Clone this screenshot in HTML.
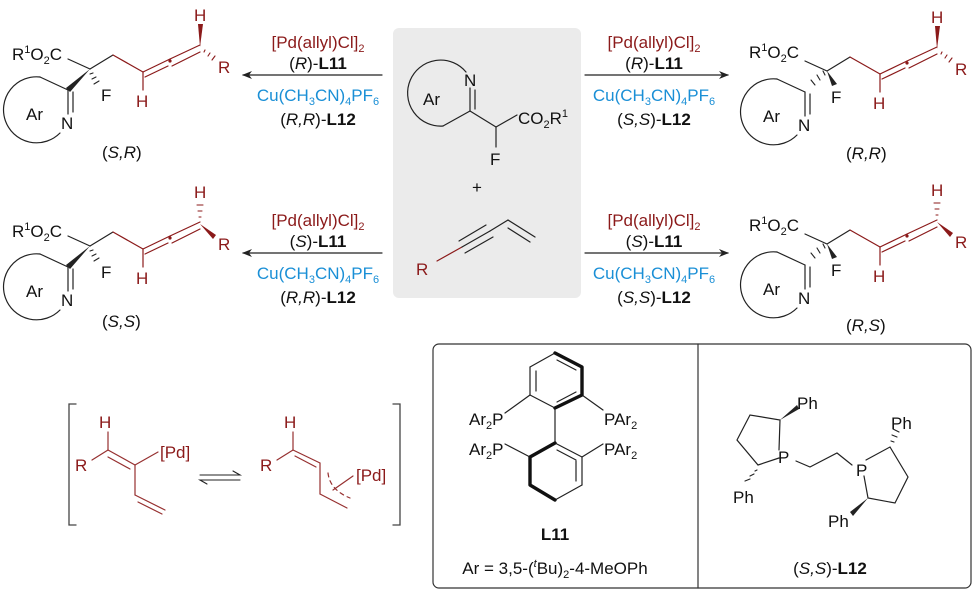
<!DOCTYPE html>
<html><head><meta charset="utf-8"><style>
html,body{margin:0;padding:0;background:#fff}
svg{display:block}
text{font-family:"Liberation Sans",Arial,sans-serif;font-size:17px;fill:#111}
.r{fill:#8b1a1a}.b{fill:#1a8fd6}
.sm{font-size:11px}
line,path,polyline,polygon,circle{stroke-linecap:round}
</style></head><body>
<svg width="973" height="592" viewBox="0 0 973 592" xmlns="http://www.w3.org/2000/svg">
<defs>
<marker id="ah" markerWidth="10" markerHeight="8" refX="9" refY="4" orient="auto" markerUnits="userSpaceOnUse"><path d="M0,0 L10,4 L0,8 L3,4 Z" fill="#222"/></marker>
</defs>

<rect x="393" y="28" width="188" height="270" rx="6" fill="#ebebeb"/>
<g stroke="#222" stroke-width="1.2" fill="none">
<path d="M443,126 A33,33 0 1 1 466,72"/>
<line x1="443" y1="126" x2="470" y2="111"/>
<line x1="470" y1="111" x2="470" y2="88"/><line x1="475" y1="109" x2="475" y2="90"/>
<line x1="470" y1="111" x2="496" y2="127"/>
<line x1="496" y1="127" x2="517" y2="115"/>
<line x1="496" y1="127" x2="496" y2="147"/>
</g>
<text x="423" y="105">Ar</text><text x="464" y="86">N</text>
<text x="518" y="124">CO<tspan class="sm" dy="4">2</tspan><tspan dy="-4">R</tspan><tspan class="sm" dy="-7">1</tspan></text>
<text x="490" y="165">F</text>
<text x="472" y="193">+</text>
<g stroke-width="1.2">
<line x1="437" y1="261" x2="462" y2="247" stroke="#8b1a1a"/>
<line x1="462" y1="247" x2="490" y2="231" stroke="#222"/>
<line x1="459" y1="241" x2="486" y2="225" stroke="#222"/>
<line x1="465" y1="253" x2="493" y2="237" stroke="#222"/>
<line x1="490" y1="231" x2="508" y2="220" stroke="#222"/>
<line x1="508" y1="220" x2="535" y2="237" stroke="#222"/>
<line x1="508" y1="228" x2="530" y2="242" stroke="#222"/>
</g>
<text x="416" y="275" class="r">R</text>

<g stroke="#222" stroke-width="1.2">
<line x1="382" y1="75" x2="243" y2="75" marker-end="url(#ah)"/>
<line x1="585" y1="75" x2="728" y2="75" marker-end="url(#ah)"/>
<line x1="382" y1="253" x2="243" y2="253" marker-end="url(#ah)"/>
<line x1="585" y1="253" x2="728" y2="253" marker-end="url(#ah)"/>
</g>
<g text-anchor="middle">
<text x="318" y="48" class="r">[Pd(allyl)Cl]<tspan class="sm" dy="4">2</tspan></text>
<text x="318" y="69">(<tspan font-style="italic">R</tspan>)-<tspan font-weight="bold">L11</tspan></text>
<text x="318" y="101" class="b">Cu(CH<tspan class="sm" dy="4">3</tspan><tspan dy="-4">CN)</tspan><tspan class="sm" dy="4">4</tspan><tspan dy="-4">PF</tspan><tspan class="sm" dy="4">6</tspan></text>
<text x="318" y="125">(<tspan font-style="italic">R,R</tspan>)-<tspan font-weight="bold">L12</tspan></text>

<text x="654" y="48" class="r">[Pd(allyl)Cl]<tspan class="sm" dy="4">2</tspan></text>
<text x="654" y="69">(<tspan font-style="italic">R</tspan>)-<tspan font-weight="bold">L11</tspan></text>
<text x="654" y="101" class="b">Cu(CH<tspan class="sm" dy="4">3</tspan><tspan dy="-4">CN)</tspan><tspan class="sm" dy="4">4</tspan><tspan dy="-4">PF</tspan><tspan class="sm" dy="4">6</tspan></text>
<text x="654" y="125">(<tspan font-style="italic">S,S</tspan>)-<tspan font-weight="bold">L12</tspan></text>

<text x="318" y="226" class="r">[Pd(allyl)Cl]<tspan class="sm" dy="4">2</tspan></text>
<text x="318" y="247">(<tspan font-style="italic">S</tspan>)-<tspan font-weight="bold">L11</tspan></text>
<text x="318" y="279" class="b">Cu(CH<tspan class="sm" dy="4">3</tspan><tspan dy="-4">CN)</tspan><tspan class="sm" dy="4">4</tspan><tspan dy="-4">PF</tspan><tspan class="sm" dy="4">6</tspan></text>
<text x="318" y="303">(<tspan font-style="italic">R,R</tspan>)-<tspan font-weight="bold">L12</tspan></text>

<text x="654" y="226" class="r">[Pd(allyl)Cl]<tspan class="sm" dy="4">2</tspan></text>
<text x="654" y="247">(<tspan font-style="italic">S</tspan>)-<tspan font-weight="bold">L11</tspan></text>
<text x="654" y="279" class="b">Cu(CH<tspan class="sm" dy="4">3</tspan><tspan dy="-4">CN)</tspan><tspan class="sm" dy="4">4</tspan><tspan dy="-4">PF</tspan><tspan class="sm" dy="4">6</tspan></text>
<text x="654" y="303">(<tspan font-style="italic">S,S</tspan>)-<tspan font-weight="bold">L12</tspan></text>
</g>

<!-- top-left (S,R) -->
<g transform="translate(0,0)">
<g stroke="#222" stroke-width="1.2" fill="none">
<path d="M40,77 A33,33 0 1 0 60,133"/>
<line x1="40" y1="77" x2="68" y2="90"/>
<line x1="68" y1="90" x2="68" y2="114"/><line x1="73" y1="92" x2="73" y2="112"/>
<line x1="68" y1="59" x2="90" y2="69"/>
<line x1="90" y1="69" x2="113" y2="55"/>
</g>
<polygon points="90,69 66,88 70,92" fill="#222"/>
<g stroke="#222" stroke-width="1.1"><line x1="93" y1="73" x2="90" y2="74"/><line x1="96" y1="77" x2="92" y2="79"/><line x1="99" y1="81" x2="94" y2="84"/></g>
<text x="101" y="101">F</text><text x="61" y="129">N</text><text x="26" y="120">Ar</text>
<text x="12" y="60">R<tspan class="sm" dy="-7">1</tspan><tspan dy="7">O</tspan><tspan class="sm" dy="4">2</tspan><tspan dy="-4">C</tspan></text>
<g stroke="#8b1a1a" stroke-width="1.2" fill="none">
<line x1="113" y1="55" x2="143" y2="72"/>
<line x1="143" y1="72" x2="170" y2="59"/><line x1="145" y1="77" x2="168" y2="66"/>
<line x1="170" y1="59" x2="200" y2="45"/><line x1="172" y1="66" x2="200" y2="52"/>
<line x1="143" y1="72" x2="143" y2="90"/>
</g>
<circle cx="170" cy="61" r="1.6" fill="#8b1a1a"/>
<polygon points="200,47 198,24 203,24" fill="#8b1a1a"/>
<g stroke="#8b1a1a" stroke-width="1.1"><line x1="205" y1="50" x2="204" y2="52"/><line x1="210" y1="53" x2="208" y2="56"/><line x1="215" y1="56" x2="212" y2="60"/></g>
<text x="194" y="21" class="r">H</text><text x="218" y="73" class="r">R</text><text x="136" y="107" class="r">H</text>
<text x="102" y="158">(<tspan font-style="italic">S,R</tspan>)</text>
</g>

<!-- bottom-left (S,S) -->
<g transform="translate(0,177)">
<g stroke="#222" stroke-width="1.2" fill="none">
<path d="M40,77 A33,33 0 1 0 60,133"/>
<line x1="40" y1="77" x2="68" y2="90"/>
<line x1="68" y1="90" x2="68" y2="114"/><line x1="73" y1="92" x2="73" y2="112"/>
<line x1="68" y1="59" x2="90" y2="69"/>
<line x1="90" y1="69" x2="113" y2="55"/>
</g>
<polygon points="90,69 66,88 70,92" fill="#222"/>
<g stroke="#222" stroke-width="1.1"><line x1="93" y1="73" x2="90" y2="74"/><line x1="96" y1="77" x2="92" y2="79"/><line x1="99" y1="81" x2="94" y2="84"/></g>
<text x="101" y="101">F</text><text x="61" y="129">N</text><text x="26" y="120">Ar</text>
<text x="12" y="60">R<tspan class="sm" dy="-7">1</tspan><tspan dy="7">O</tspan><tspan class="sm" dy="4">2</tspan><tspan dy="-4">C</tspan></text>
<g stroke="#8b1a1a" stroke-width="1.2" fill="none">
<line x1="113" y1="55" x2="143" y2="72"/>
<line x1="143" y1="72" x2="170" y2="59"/><line x1="145" y1="77" x2="168" y2="66"/>
<line x1="170" y1="59" x2="200" y2="45"/><line x1="172" y1="66" x2="200" y2="52"/>
<line x1="143" y1="72" x2="143" y2="90"/>
</g>
<circle cx="170" cy="61" r="1.6" fill="#8b1a1a"/>
<g stroke="#8b1a1a" stroke-width="1.1"><line x1="199" y1="40" x2="201" y2="40"/><line x1="198" y1="34" x2="202" y2="34"/><line x1="197" y1="28" x2="203" y2="28"/></g>
<polygon points="200,47 216,58 213,62" fill="#8b1a1a"/>
<text x="194" y="21" class="r">H</text><text x="218" y="73" class="r">R</text><text x="136" y="107" class="r">H</text>
<text x="102" y="150">(<tspan font-style="italic">S,S</tspan>)</text>
</g>

<!-- top-right (R,R) -->
<g transform="translate(737,2)">
<g stroke="#222" stroke-width="1.2" fill="none">
<path d="M40,77 A33,33 0 1 0 60,133"/>
<line x1="40" y1="77" x2="68" y2="90"/>
<line x1="68" y1="90" x2="68" y2="114"/><line x1="73" y1="92" x2="73" y2="112"/>
<line x1="68" y1="59" x2="90" y2="69"/>
<line x1="90" y1="69" x2="113" y2="55"/>
</g>
<g stroke="#222" stroke-width="1.1"><line x1="86" y1="69" x2="88" y2="73"/><line x1="80" y1="73" x2="83" y2="78"/><line x1="74" y1="78" x2="78" y2="83"/></g>
<polygon points="90,69 95,84 100,82" fill="#222"/>
<text x="94" y="101">F</text><text x="61" y="129">N</text><text x="26" y="120">Ar</text>
<text x="12" y="56">R<tspan class="sm" dy="-7">1</tspan><tspan dy="7">O</tspan><tspan class="sm" dy="4">2</tspan><tspan dy="-4">C</tspan></text>
<g stroke="#8b1a1a" stroke-width="1.2" fill="none">
<line x1="113" y1="55" x2="143" y2="72"/>
<line x1="143" y1="72" x2="170" y2="59"/><line x1="145" y1="77" x2="168" y2="66"/>
<line x1="170" y1="59" x2="200" y2="45"/><line x1="172" y1="66" x2="200" y2="52"/>
<line x1="143" y1="72" x2="143" y2="90"/>
</g>
<circle cx="170" cy="61" r="1.6" fill="#8b1a1a"/>
<polygon points="200,47 198,24 203,24" fill="#8b1a1a"/>
<g stroke="#8b1a1a" stroke-width="1.1"><line x1="205" y1="50" x2="204" y2="52"/><line x1="210" y1="53" x2="208" y2="56"/><line x1="215" y1="56" x2="212" y2="60"/></g>
<text x="194" y="21" class="r">H</text><text x="218" y="73" class="r">R</text><text x="136" y="107" class="r">H</text>
<text x="109" y="157">(<tspan font-style="italic">R,R</tspan>)</text>
</g>

<!-- bottom-right (R,S) -->
<g transform="translate(737,175)">
<g stroke="#222" stroke-width="1.2" fill="none">
<path d="M40,77 A33,33 0 1 0 60,133"/>
<line x1="40" y1="77" x2="68" y2="90"/>
<line x1="68" y1="90" x2="68" y2="114"/><line x1="73" y1="92" x2="73" y2="112"/>
<line x1="68" y1="59" x2="90" y2="69"/>
<line x1="90" y1="69" x2="113" y2="55"/>
</g>
<g stroke="#222" stroke-width="1.1"><line x1="86" y1="69" x2="88" y2="73"/><line x1="80" y1="73" x2="83" y2="78"/><line x1="74" y1="78" x2="78" y2="83"/></g>
<polygon points="90,69 95,84 100,82" fill="#222"/>
<text x="94" y="101">F</text><text x="61" y="129">N</text><text x="26" y="120">Ar</text>
<text x="12" y="56">R<tspan class="sm" dy="-7">1</tspan><tspan dy="7">O</tspan><tspan class="sm" dy="4">2</tspan><tspan dy="-4">C</tspan></text>
<g stroke="#8b1a1a" stroke-width="1.2" fill="none">
<line x1="113" y1="55" x2="143" y2="72"/>
<line x1="143" y1="72" x2="170" y2="59"/><line x1="145" y1="77" x2="168" y2="66"/>
<line x1="170" y1="59" x2="200" y2="45"/><line x1="172" y1="66" x2="200" y2="52"/>
<line x1="143" y1="72" x2="143" y2="90"/>
</g>
<circle cx="170" cy="61" r="1.6" fill="#8b1a1a"/>
<g stroke="#8b1a1a" stroke-width="1.1"><line x1="199" y1="40" x2="201" y2="40"/><line x1="198" y1="34" x2="202" y2="34"/><line x1="197" y1="28" x2="203" y2="28"/></g>
<polygon points="200,47 216,58 213,62" fill="#8b1a1a"/>
<text x="194" y="21" class="r">H</text><text x="218" y="73" class="r">R</text><text x="136" y="107" class="r">H</text>
<text x="109" y="156">(<tspan font-style="italic">R,S</tspan>)</text>
</g>

<!-- brackets -->
<g stroke="#444" stroke-width="1.3" fill="none">
<polyline points="76,404 69,404 69,525 76,525"/>
<polyline points="393,404 400,404 400,525 393,525"/>
</g>
<g stroke="#8b1a1a" stroke-width="1.2" fill="none" opacity="0.9">
<line x1="108" y1="432" x2="108" y2="450"/>
<line x1="92" y1="460" x2="108" y2="450"/>
<line x1="108" y1="450" x2="135" y2="465"/><line x1="108" y1="457" x2="130" y2="469"/>
<line x1="135" y1="465" x2="158" y2="452"/>
<line x1="135" y1="465" x2="135" y2="495"/>
<line x1="135" y1="495" x2="165" y2="510"/><line x1="138" y1="502" x2="162" y2="514"/>
<line x1="293" y1="432" x2="293" y2="450"/>
<line x1="277" y1="460" x2="293" y2="450"/>
<line x1="293" y1="450" x2="320" y2="463"/><line x1="295" y1="456" x2="316" y2="467"/>
<line x1="320" y1="463" x2="320" y2="494"/>
<line x1="320" y1="494" x2="347" y2="508"/>
<line x1="333" y1="490" x2="353" y2="476"/>
<path d="M328,473 Q330,490 350,498" stroke-dasharray="4,4"/>
</g>
<text x="99" y="428" class="r">H</text><text x="75" y="471" class="r">R</text><text x="160" y="458" class="r">[Pd]</text>
<text x="284" y="428" class="r">H</text><text x="260" y="471" class="r">R</text><text x="356" y="481" class="r">[Pd]</text>
<g stroke="#222" stroke-width="1.1" fill="none">
<polyline points="200,475 240,475 233,471"/>
<polyline points="240,480 200,480 207,484"/>
</g>

<!-- ligand box -->
<rect x="433" y="344" width="538" height="244" rx="6" fill="none" stroke="#333" stroke-width="1.2"/>
<line x1="698" y1="344" x2="698" y2="588" stroke="#333" stroke-width="1.2"/>
<g stroke="#222" stroke-width="1.2" fill="none">
<line x1="555" y1="353" x2="530" y2="367"/><line x1="530" y1="367" x2="530" y2="395"/><line x1="530" y1="395" x2="555" y2="408"/>
<line x1="536" y1="371" x2="536" y2="391"/><line x1="557" y1="360" x2="576" y2="370"/>
<line x1="555" y1="408" x2="555" y2="443"/>
<line x1="555" y1="443" x2="582" y2="457"/><line x1="582" y1="457" x2="582" y2="485"/><line x1="582" y1="485" x2="555" y2="500"/>
<line x1="576" y1="461" x2="576" y2="481"/><line x1="557" y1="450" x2="576" y2="460"/>
<line x1="505" y1="413" x2="530" y2="395"/><line x1="582" y1="395" x2="603" y2="410"/>
<line x1="505" y1="444" x2="530" y2="457"/><line x1="582" y1="457" x2="603" y2="444"/>
</g>
<g stroke="#111" stroke-width="3.4" fill="none" stroke-linejoin="round">
<polyline points="555,353 582,367 582,395 555,408"/>
<polyline points="555,443 530,457 530,485 555,500"/>
</g>
<line x1="557" y1="402" x2="576" y2="392" stroke="#222" stroke-width="1.2"/>
<text x="469" y="425">Ar<tspan class="sm" dy="4">2</tspan><tspan dy="-4">P</tspan></text>
<text x="604" y="425">PAr<tspan class="sm" dy="4">2</tspan></text>
<text x="469" y="455">Ar<tspan class="sm" dy="4">2</tspan><tspan dy="-4">P</tspan></text>
<text x="604" y="455">PAr<tspan class="sm" dy="4">2</tspan></text>
<text x="555" y="540" text-anchor="middle" font-weight="bold">L11</text>
<text x="555" y="574" text-anchor="middle">Ar = 3,5-(<tspan font-style="italic" class="sm" dy="-7">t</tspan><tspan dy="7">Bu)</tspan><tspan class="sm" dy="4">2</tspan><tspan dy="-4">-4-MeOPh</tspan></text>
<!-- L12 -->
<g stroke="#222" stroke-width="1.2" fill="none">
<polyline points="779,450 780,420 750,415 737,440 758,465 779,458"/>
<polyline points="796,461 810,467 837,453 852,465"/>
<polyline points="866,460 890,447 908,477 895,503 868,498 864,476"/>
</g>
<polygon points="780,420 797,405 799,409" fill="#222"/>
<g stroke="#222" stroke-width="1.1"><line x1="755" y1="471" x2="757" y2="470"/><line x1="750" y1="476" x2="754" y2="474"/><line x1="745" y1="481" x2="750" y2="479"/></g>
<g stroke="#222" stroke-width="1.1"><line x1="891" y1="441" x2="894" y2="442"/><line x1="892" y1="435" x2="897" y2="437"/><line x1="893" y1="429" x2="899" y2="432"/></g>
<polygon points="868,498 850,512 853,516" fill="#222"/>
<text x="778" y="463">P</text><text x="856" y="476">P</text>
<text x="797" y="409">Ph</text><text x="733" y="503">Ph</text>
<text x="891" y="429">Ph</text><text x="828" y="527">Ph</text>
<text x="830" y="574" text-anchor="middle">(<tspan font-style="italic">S,S</tspan>)-<tspan font-weight="bold">L12</tspan></text>
</svg>
</body></html>
